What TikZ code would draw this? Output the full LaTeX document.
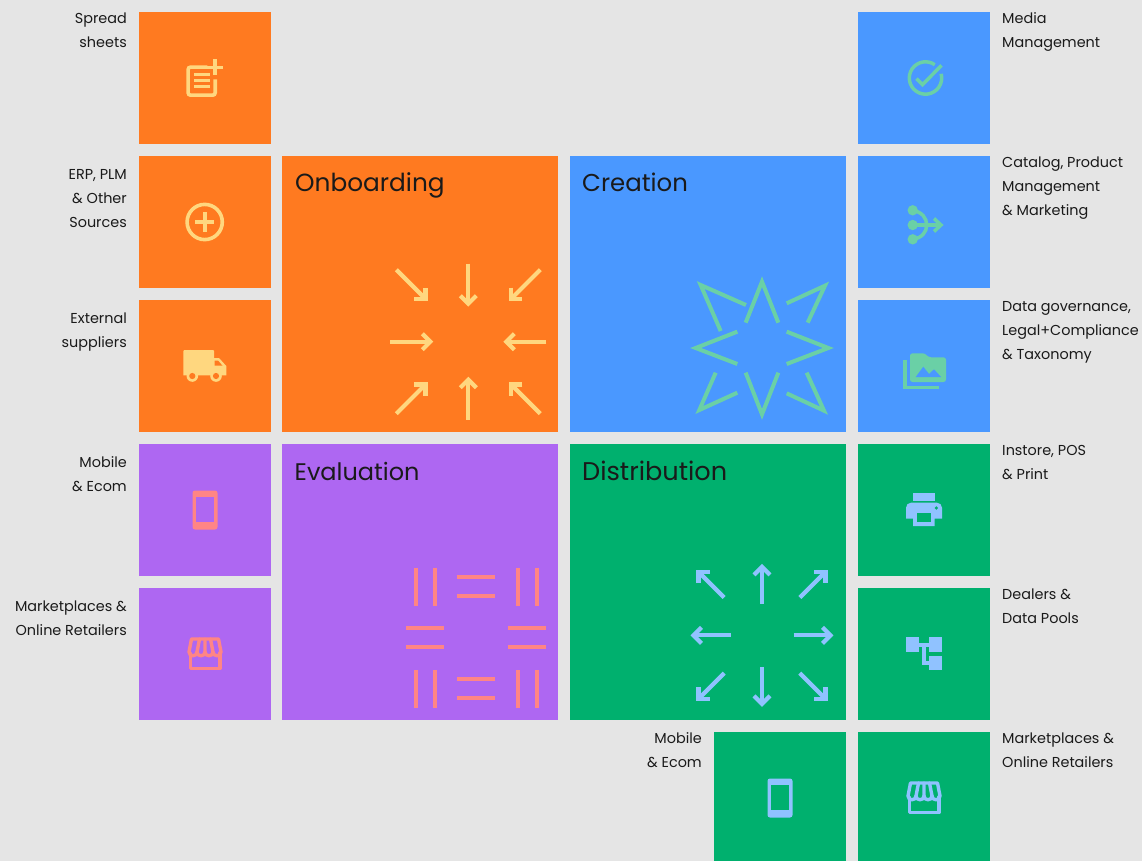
\documentclass[tikz,border=0pt]{standalone}
\usepackage{fontspec}
\setmainfont{Poppins}
\definecolor{bgc}{HTML}{E5E5E5}
\definecolor{org}{HTML}{FF7A20}
\definecolor{blu}{HTML}{4A98FF}
\definecolor{pur}{HTML}{AE67F2}
\definecolor{grn}{HTML}{00B06E}
\definecolor{iorg}{HTML}{FFD77F}
\definecolor{iblu}{HTML}{6AD0A6}
\definecolor{ipur}{HTML}{FF8585}
\definecolor{igrn}{HTML}{90C2FF}
\definecolor{ink}{HTML}{1A1A1A}
\newcommand{\phoneicon}[3]{%
  \begin{scope}[shift={(#1,#2)}]
    \fill[#3,rounded corners=2.5pt] (-12.5,-19.5) rectangle (12.5,19.5);
    \fill[tilebg] (-8.7,-13.3) rectangle (8.7,12);
  \end{scope}}
\newcommand{\storeicon}[3]{%
  \begin{scope}[shift={(#1,#2)},#3,line width=3.4pt,line join=round,line cap=round]
    \draw (-14.8,-1) -- (-14.8,14.5) -- (14.8,14.5) -- (14.8,-1);
    \draw (-16,-2) -- (-13.5,-15) -- (13.5,-15) -- (16,-2);
    \draw (-16,-2) .. controls (-16,3) and (-8,3) .. (-8,-2)
       .. controls (-8,3) and (0,3) .. (0,-2)
       .. controls (0,3) and (8,3) .. (8,-2)
       .. controls (8,3) and (16,3) .. (16,-2);
    \draw (-5.5,-15) -- (-8,-2) (0,-15) -- (0,-2) (5.5,-15) -- (8,-2);
  \end{scope}}
% #1 centre, #2 angle, #3 tail radius, #4 tip radius
\newcommand{\ray}[4]{%
  \begin{scope}[shift={#1},rotate=#2]
    \draw[rayline] (#3,0) -- (#4,0);
    \ifdim #3pt>#4pt
      \draw[rayline] (#4+8,-8) -- (#4,0) -- (#4+8,8);
    \else
      \draw[rayline] (#4-8,-8) -- (#4,0) -- (#4-8,8);
    \fi
  \end{scope}}
\tikzset{
  x=1pt,y=-1pt,
  tilebox/.style={anchor=north west,draw=none,inner sep=0pt,outer sep=0pt},
  small/.style={tilebox,minimum width=132pt,minimum height=132pt},
  big/.style={tilebox,minimum width=276pt,minimum height=276pt},
  cut/.style={tilebox,minimum width=132pt,minimum height=129pt},
  title/.style={anchor=base west,inner sep=0pt,text=ink,font=\fontsize{24.8}{28}\selectfont},
  lableft/.style={anchor=north east,inner sep=0pt,align=right,text=ink,font=\fontsize{14.4}{24}\selectfont},
  labright/.style={anchor=north west,inner sep=0pt,align=left,text=ink,font=\fontsize{14.4}{24}\selectfont},
  rayline/.style={line width=4.2pt,miter limit=10},
  starline/.style={line width=4pt,miter limit=10},
  barline/.style={line width=4.2pt},
  tilebg/.style={},
}
\newcommand{\fl}{\rule{0pt}{14pt}}
\begin{document}
\begin{tikzpicture}
\useasboundingbox (0,0) rectangle (1142,861);
\fill[bgc] (0,0) rectangle (1142,861);
% tiles
\node[small,fill=org] (t1) at (139,12) {};
\node[small,fill=org] (t2) at (139,156) {};
\node[small,fill=org] (t3) at (139,300) {};
\node[small,fill=pur] (t4) at (139,444) {};
\node[small,fill=pur] (t5) at (139,588) {};
\node[big,fill=org] (onb) at (282,156) {};
\node[big,fill=blu] (cre) at (570,156) {};
\node[big,fill=pur] (eva) at (282,444) {};
\node[big,fill=grn] (dis) at (570,444) {};
\node[small,fill=blu] (r1) at (858,12) {};
\node[small,fill=blu] (r2) at (858,156) {};
\node[small,fill=blu] (r3) at (858,300) {};
\node[small,fill=grn] (r4) at (858,444) {};
\node[small,fill=grn] (r5) at (858,588) {};
\node[cut,fill=grn] (b1) at (714,732) {};
\node[cut,fill=grn] (b2) at (858,732) {};
% titles
\node[title] (tonb) at (295,192) {Onboarding};
\node[title,font=\fontsize{24.4}{28}\selectfont] (tcre) at (582,191.5) {Creation};
\node[title,font=\fontsize{24}{28}\selectfont] (teva) at (294.5,480.5) {Evaluation};
\node[title,font=\fontsize{25.6}{28}\selectfont] (tdis) at (582,480.5) {Distribution};
% left labels
\node[lableft] (l1) at (127,9.6) {\fl Spread\\sheets};
\node[lableft] (l2) at (127,165.6) {\fl ERP, PLM\\\& Other\\Sources};
\node[lableft] (l3) at (127,309.6) {\fl External\\suppliers};
\node[lableft] (l4) at (127,453.6) {\fl Mobile\\\& Ecom};
\node[lableft] (l5) at (127,597.6) {\fl Marketplaces \&\\Online Retailers};
\node[lableft] (l6) at (702,729.6) {\fl Mobile\\\& Ecom};
% right labels
\node[labright] (m1) at (1002,9.6) {\fl Media\\Management};
\node[labright] (m2) at (1002,153.6) {\fl Catalog, Product\\Management\\\& Marketing};
\node[labright] (m3) at (1002,297.6) {\fl Data governance,\\Legal+Compliance\\\& Taxonomy};
\node[labright] (m4) at (1002,441.6) {\fl Instore, POS\\\& Print};
\node[labright] (m5) at (1002,585.6) {\fl Dealers \&\\Data Pools};
\node[labright] (m6) at (1002,729.6) {\fl Marketplaces \&\\Online Retailers};
% ---- spreadsheet icon
\begin{scope}[shift={(205,78)},iorg,line width=3.6pt]
  \draw[rounded corners=2.5pt] (2.3,-10.9) -- (-16.9,-10.9) -- (-16.9,17.2) -- (10.2,17.2) -- (10.2,1.3);
  \draw[line width=3.4pt] (-11,-3.3) -- (5,-3.3) (-11,2.3) -- (5,2.3) (-11,8.7) -- (5,8.7);
  \draw (10,-18.5) -- (10,-2.5) (2,-10.5) -- (18,-10.5);
\end{scope}
% ---- plus in circle
\begin{scope}[shift={(204.7,222)},iorg,line width=3.6pt]
  \draw (0,0) circle[radius=17.6];
  \draw (-9.7,0) -- (9.7,0) (0,-9.7) -- (0,9.7);
\end{scope}
% ---- truck
\begin{scope}[shift={(205,366)}]
  \fill[iorg] (-21.7,9.3) -- (-21.7,-15) [rounded corners=1pt] -- (-21.7,-16) -- (9,-16) [sharp corners] -- (9,-8) -- (14,-8) -- (21.3,0) -- (21.3,9.3) -- cycle;
  \fill[org] (9.5,-5.5) -- (13,-5.5) -- (17.5,-0.3) -- (9.5,-0.3) -- cycle;
  \fill[iorg] (-12.7,10) circle[radius=5.8] (11,10) circle[radius=5.8];
  \fill[org] (-12.7,10) circle[radius=3.1] (11,10) circle[radius=3.1];
\end{scope}
% ---- phones, stores
\tikzset{tilebg/.style={fill=pur}}
\phoneicon{205}{510}{ipur}
\storeicon{205}{654}{ipur}
\tikzset{tilebg/.style={fill=grn}}
\phoneicon{780}{798}{igrn}
\storeicon{924}{798}{igrn}
% ---- check
\begin{scope}[shift={(925.5,78)},iblu,line width=3.5pt]
  \begin{scope}[y=1pt]
    \draw (55:16.2) arc[start angle=55,end angle=375,radius=16.2];
  \end{scope}
  \draw (-9,0.7) -- (-3,6.7) -- (16,-12.7);
\end{scope}
% ---- merge
\begin{scope}[shift={(924,222)},iblu,line width=3.5pt]
  \fill (-11.3,-11.7) circle[radius=5.2] (-11.3,3) circle[radius=5.2] (-11.3,17.3) circle[radius=5.2];
  \draw (-11.3,3) -- (17,3);
  \draw (10,-3.5) -- (17,3) -- (10,9.5);
  \draw (-11.3,-11.7) .. controls (-2,-10) and (2.7,-4) .. (2.7,3) .. controls (2.7,10) and (-2,16) .. (-11.3,17.3);
\end{scope}
% ---- folder
\begin{scope}[shift={(924,366)}]
  \fill[iblu,rounded corners=2.5pt] (-14,16) -- (-14,-12.7) -- (1,-12.7) -- (4.5,-8.7) -- (22,-8.7) -- (22,16) -- cycle;
  \fill[blu] (-8.3,11) -- (-0.7,0.7) -- (5,8) -- (10,3.3) -- (17,11) -- cycle;
  \draw[iblu,line width=3.4pt] (-19,-5.7) -- (-19,21.7) -- (15,21.7);
\end{scope}
% ---- printer
\begin{scope}[shift={(924,510)}]
  \fill[igrn] (-11,-16.7) rectangle (10.7,-9);
  \fill[igrn] (-18,8.7) -- (-18,-2) [rounded corners=5pt] -- (-18,-7.3) -- (18,-7.3) [sharp corners] -- (18,8.7) -- (10.7,8.7) -- (10.7,16) -- (-11,16) -- (-11,8.7) -- cycle;
  \fill[grn] (-7,3.3) rectangle (7,12.3);
  \fill[grn] (12.3,-2) circle[radius=1.8];
\end{scope}
% ---- tree
\begin{scope}[shift={(924,654)}]
  \fill[igrn] (-18,-16.7) rectangle (-5.3,-2.3);
  \fill[igrn] (5.3,-16.7) rectangle (18,-2.3);
  \fill[igrn] (5.3,1.7) rectangle (18,16);
  \draw[igrn,line width=3.6pt] (-5.3,-9.3) -- (5.3,-9.3) (0,-9.3) -- (0,9) -- (5.3,9);
\end{scope}
% ---- onboarding arrows
\begin{scope}[iorg]
  \foreach \a in {0,90,180,270} {\ray{(468.3,341.7)}{\a}{78}{38}}
  \foreach \a in {45,135,225,315} {\ray{(468.3,341.7)}{\a}{101.8}{60.4}}
\end{scope}
% ---- distribution arrows
\begin{scope}[igrn]
  \foreach \a in {0,90,180,270} {\ray{(762,635.3)}{\a}{31.5}{68.5}}
  \foreach \a in {45,135,225,315} {\ray{(762,635.3)}{\a}{53.5}{89.8}}
\end{scope}
% ---- evaluation bars
\begin{scope}[ipur,barline]
  \foreach \x in {416,435,517.7,536.7} {
    \draw (\x,567.7) -- (\x,605.7);
    \draw (\x,670) -- (\x,707.7);
  }
  \foreach \y in {577,596,679,698} \draw (457.3,\y) -- (495,\y);
  \foreach \y in {628,647} {
    \draw (406.3,\y) -- (444.3,\y);
    \draw (508.3,\y) -- (546.3,\y);
  }
\end{scope}
% ---- star
\begin{scope}[shift={(680,270)},scale=1/3,iblu,starline]
  \draw (197,158) -- (246,35) -- (295,158);
  \draw (320,185) -- (445,234) -- (320,282);
  \draw (172,185) -- (47,234) -- (172,282);
  \draw (197,308) -- (246,433) -- (295,308);
  \draw (122,183) -- (62,45) -- (198,105);
  \draw (383,158) -- (435,47) -- (320,100);
  \draw (107,308) -- (58,420) -- (172,368);
  \draw (380,308) -- (432,422) -- (320,370);
\end{scope}
\end{tikzpicture}
\end{document}
